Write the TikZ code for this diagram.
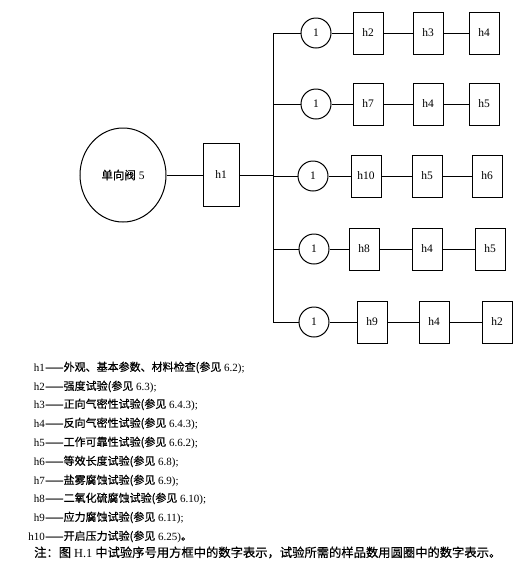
\documentclass[tikz,border=0pt]{standalone}
\usepackage{fontspec}
\usetikzlibrary{shapes.geometric}
\setmainfont{Liberation Serif}
\newfontfamily\cjk[FakeBold=0.6]{Noto Sans CJK SC}
\newcommand{\zh}[1]{{\cjk #1}}

\begin{document}
\begin{tikzpicture}[x=1pt, y=-1pt,
    box/.style={draw, line width=1pt, minimum width=30pt, minimum height=42pt, inner sep=0pt, font=\fontsize{11.5}{13}\selectfont},
    num/.style={draw, line width=1pt, circle, minimum size=30pt, inner sep=0pt, font=\fontsize{11.5}{13}\selectfont},
    key/.style={anchor=base east, inner sep=0pt, font=\fontsize{11}{13}\selectfont},
    desc/.style={anchor=base west, inner sep=0pt, font=\fontsize{11}{13}\selectfont}]

\useasboundingbox (0,0) rectangle (516,566);

% valve and first test
\node[draw, line width=1pt, ellipse, minimum width=86pt, minimum height=94pt, inner sep=0pt, font=\fontsize{11.5}{13}\selectfont] (valve) at (123,175) {\zh{单向阀} 5};
\node[box, minimum width=36pt, minimum height=63pt] (h1) at (221,175) {h1};

\coordinate (hub) at (273,175);
\coordinate (top) at (273,33);
\coordinate (bot) at (273,322);

\draw[line width=0.9pt] (valve) -- (h1);
\draw[line width=0.9pt] (h1) -- (hub);
\draw[line width=0.9pt] (top) -- (bot);

% branch 1
\coordinate (b1) at (273,33);
\node[num] (n1) at (316,33) {1};
\node[box] (r1a) at (368,33) {h2};
\node[box] (r1b) at (428,33) {h3};
\node[box] (r1c) at (484,33) {h4};
\draw[line width=0.9pt] (b1) -- (n1) -- (r1a) -- (r1b) -- (r1c);

% branch 2
\coordinate (b2) at (273,104);
\node[num] (n2) at (316,104) {1};
\node[box] (r2a) at (368,104) {h7};
\node[box] (r2b) at (428,104) {h4};
\node[box] (r2c) at (484,104) {h5};
\draw[line width=0.9pt] (b2) -- (n2) -- (r2a) -- (r2b) -- (r2c);

% branch 3
\coordinate (b3) at (273,176);
\node[num] (n3) at (313,176) {1};
\node[box] (r3a) at (366,176) {h10};
\node[box] (r3b) at (427,176) {h5};
\node[box] (r3c) at (487,176) {h6};
\draw[line width=0.9pt] (b3) -- (n3) -- (r3a) -- (r3b) -- (r3c);

% branch 4
\coordinate (b4) at (273,249);
\node[num] (n4) at (314,249) {1};
\node[box] (r4a) at (364,249) {h8};
\node[box] (r4b) at (427,249) {h4};
\node[box] (r4c) at (490,249) {h5};
\draw[line width=0.9pt] (b4) -- (n4) -- (r4a) -- (r4b) -- (r4c);

% branch 5
\coordinate (b5) at (273,322);
\node[num] (n5) at (314,322) {1};
\node[box] (r5a) at (372,322) {h9};
\node[box] (r5b) at (434,322) {h4};
\node[box] (r5c) at (497,322) {h2};
\draw[line width=0.9pt] (b5) -- (n5) -- (r5a) -- (r5b) -- (r5c);

% legend
\node[key] (k1) at (45,371) {h1};
\node[desc] (d1) at (45,371) {\zh{——外观、基本参数、材料检查(参见} 6.2);};
\node[key] (k2) at (45,390) {h2};
\node[desc] (d2) at (45,390) {\zh{——强度试验(参见} 6.3);};
\node[key] (k3) at (45,408) {h3};
\node[desc] (d3) at (45,408) {\zh{——正向气密性试验(参见} 6.4.3);};
\node[key] (k4) at (45,427) {h4};
\node[desc] (d4) at (45,427) {\zh{——反向气密性试验(参见} 6.4.3);};
\node[key] (k5) at (45,446) {h5};
\node[desc] (d5) at (45,446) {\zh{——工作可靠性试验(参见} 6.6.2);};
\node[key] (k6) at (45,465) {h6};
\node[desc] (d6) at (45,465) {\zh{——等效长度试验(参见} 6.8);};
\node[key] (k7) at (45,484) {h7};
\node[desc] (d7) at (45,484) {\zh{——盐雾腐蚀试验(参见} 6.9);};
\node[key] (k8) at (45,502) {h8};
\node[desc] (d8) at (45,502) {\zh{——二氧化硫腐蚀试验(参见} 6.10);};
\node[key] (k9) at (45,521) {h9};
\node[desc] (d9) at (45,521) {\zh{——应力腐蚀试验(参见} 6.11);};
\node[key] (k10) at (45,540) {h10};
\node[desc] (d10) at (45,540) {\zh{——开启压力试验(参见} 6.25)\zh{。}};

\node[desc, font=\fontsize{12.3}{14}\selectfont] (note) at (34,557) {\zh{注：图} H.1 \zh{中试验序号用方框中的数字表示，试验所需的样品数用圆圈中的数字表示。}};

\end{tikzpicture}
\end{document}
